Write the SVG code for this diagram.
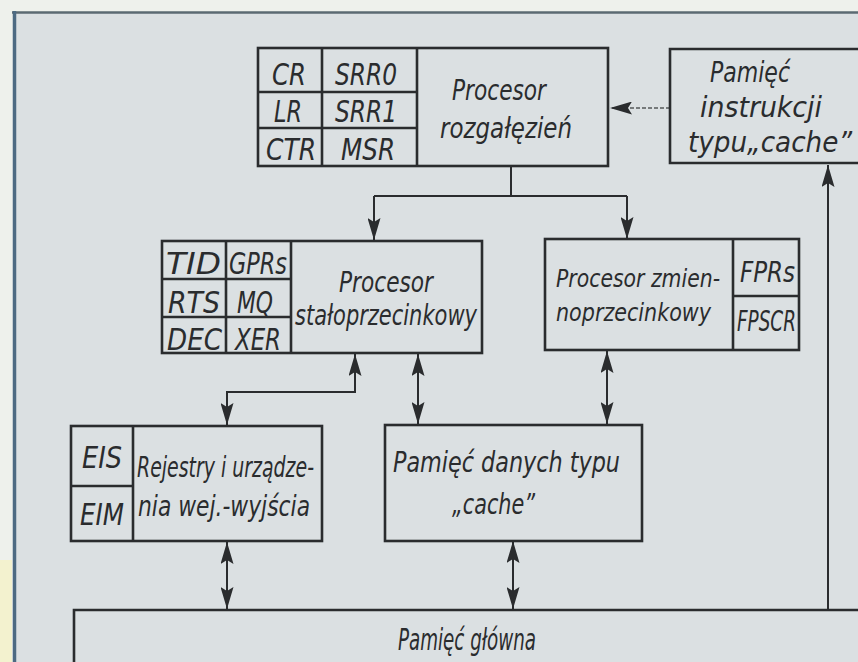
<svg xmlns="http://www.w3.org/2000/svg" width="858" height="662" viewBox="0 0 858 662">
  <style>
    .box { fill: none; stroke: #2a2c2e; stroke-width: 2.6; }
    .wire { fill: none; stroke: #2a2c2e; stroke-width: 2; }
    .thin { fill: none; stroke: #55585a; stroke-width: 1.6; stroke-dasharray: 4 2; }
    text { font-family: "DejaVu Sans Condensed", "Liberation Sans Narrow", "Liberation Sans", sans-serif; font-style: italic; fill: #2a2c2e; }
    .reg { font-size: 31px; }
    .lbl { font-size: 28px; }
    .fp { font-size: 25px; }
  </style>
  <defs>
    <marker id="arrow" viewBox="0 0 22 13" refX="22" refY="6.5" markerWidth="22" markerHeight="13" markerUnits="userSpaceOnUse" orient="auto-start-reverse">
      <path d="M0,0 L22,6.5 L0,13 L4,6.5 z" fill="#2a2c2e"/>
    </marker>
  </defs>

  <!-- page and frame -->
  <rect x="0" y="0" width="858" height="662" fill="#eef1ec"/>
  <rect x="0" y="560" width="12" height="102" fill="#f3f2cf"/>
  <rect x="14" y="12" width="844" height="650" fill="#dbe0e2"/>
  <line x1="12" y1="12.5" x2="858" y2="12.5" stroke="#5b6a72" stroke-width="2.5"/>
  <line x1="14.5" y1="11" x2="14.5" y2="662" stroke="#4d6a82" stroke-width="3.5"/>

  <!-- connectors -->
  <g id="connectors">
    <line class="thin" x1="670" y1="108" x2="610" y2="108" marker-end="url(#arrow)"/>
    <polyline class="wire" points="511,166 511,196"/>
    <polyline class="wire" points="374,196 627,196"/>
    <line class="wire" x1="374" y1="196" x2="374" y2="240" marker-end="url(#arrow)"/>
    <line class="wire" x1="627" y1="196" x2="627" y2="239" marker-end="url(#arrow)"/>
    <polyline class="wire" points="355,354 355,392 227,392 227,425" marker-start="url(#arrow)" marker-end="url(#arrow)"/>
    <line class="wire" x1="418" y1="354" x2="418" y2="424" marker-start="url(#arrow)" marker-end="url(#arrow)"/>
    <line class="wire" x1="607" y1="351" x2="607" y2="424" marker-start="url(#arrow)" marker-end="url(#arrow)"/>
    <line class="wire" x1="227" y1="542" x2="227" y2="609" marker-start="url(#arrow)" marker-end="url(#arrow)"/>
    <line class="wire" x1="513" y1="541" x2="513" y2="609" marker-start="url(#arrow)" marker-end="url(#arrow)"/>
    <line class="wire" x1="828" y1="610" x2="828" y2="165" marker-end="url(#arrow)"/>
  </g>

  <!-- branch processor -->
  <g id="branch-processor">
    <rect class="box" x="258" y="48" width="350" height="118"/>
    <line class="box" x1="322" y1="48" x2="322" y2="166"/>
    <line class="box" x1="417" y1="48" x2="417" y2="166"/>
    <line class="box" x1="258" y1="92" x2="417" y2="92"/>
    <line class="box" x1="258" y1="128" x2="417" y2="128"/>
    <text class="reg" x="272" y="85" textLength="34" lengthAdjust="spacingAndGlyphs">CR</text>
    <text class="reg" x="335" y="85" textLength="62" lengthAdjust="spacingAndGlyphs">SRR0</text>
    <text class="reg" x="274" y="122" textLength="28" lengthAdjust="spacingAndGlyphs">LR</text>
    <text class="reg" x="335" y="122" textLength="62" lengthAdjust="spacingAndGlyphs">SRR1</text>
    <text class="reg" x="266" y="160" textLength="50" lengthAdjust="spacingAndGlyphs">CTR</text>
    <text class="reg" x="341" y="160" textLength="54" lengthAdjust="spacingAndGlyphs">MSR</text>
    <text class="lbl" x="452" y="100" textLength="94" lengthAdjust="spacingAndGlyphs">Procesor</text>
    <text class="lbl" x="440" y="138" textLength="132" lengthAdjust="spacingAndGlyphs">rozgałęzień</text>
  </g>

  <!-- instruction cache -->
  <g id="instruction-cache">
    <polyline class="box" points="866,49 670,49 670,163 866,163"/>
    <text class="lbl" x="710" y="82" textLength="80" lengthAdjust="spacingAndGlyphs">Pamięć</text>
    <text class="lbl" x="700" y="117" textLength="122" lengthAdjust="spacingAndGlyphs">instrukcji</text>
    <text class="lbl" x="688" y="152" textLength="164" lengthAdjust="spacingAndGlyphs">typu„cache”</text>
  </g>

  <!-- fixed-point processor -->
  <g id="fixed-point-processor">
    <rect class="box" x="162" y="241" width="320" height="112"/>
    <line class="box" x1="226" y1="241" x2="226" y2="353"/>
    <line class="box" x1="291" y1="241" x2="291" y2="353"/>
    <line class="box" x1="162" y1="279" x2="291" y2="279"/>
    <line class="box" x1="162" y1="317" x2="291" y2="317"/>
    <text class="reg" x="166" y="274" textLength="55" lengthAdjust="spacingAndGlyphs">TID</text>
    <text class="reg" x="229" y="274" textLength="58" lengthAdjust="spacingAndGlyphs">GPRs</text>
    <text class="reg" x="168" y="313" textLength="52" lengthAdjust="spacingAndGlyphs">RTS</text>
    <text class="reg" x="237" y="313" textLength="36" lengthAdjust="spacingAndGlyphs">MQ</text>
    <text class="reg" x="167" y="350" textLength="55" lengthAdjust="spacingAndGlyphs">DEC</text>
    <text class="reg" x="235" y="350" textLength="46" lengthAdjust="spacingAndGlyphs">XER</text>
    <text class="lbl" x="339" y="292" textLength="94" lengthAdjust="spacingAndGlyphs">Procesor</text>
    <text class="lbl" x="295" y="325" textLength="182" lengthAdjust="spacingAndGlyphs">stałoprzecinkowy</text>
  </g>

  <!-- floating-point processor -->
  <g id="floating-point-processor">
    <rect class="box" x="545" y="239" width="254" height="111"/>
    <line class="box" x1="733" y1="239" x2="733" y2="350"/>
    <line class="box" x1="733" y1="296" x2="799" y2="296"/>
    <text class="fp" x="556" y="287" textLength="164" lengthAdjust="spacingAndGlyphs">Procesor zmien-</text>
    <text class="fp" x="556" y="321" textLength="155" lengthAdjust="spacingAndGlyphs">noprzecinkowy</text>
    <text class="lbl" x="740" y="282" textLength="55" lengthAdjust="spacingAndGlyphs">FPRs</text>
    <text class="lbl" x="737" y="331" textLength="59" lengthAdjust="spacingAndGlyphs">FPSCR</text>
  </g>

  <!-- I/O registers -->
  <g id="io-registers">
    <rect class="box" x="71" y="426" width="251" height="115"/>
    <line class="box" x1="133" y1="426" x2="133" y2="541"/>
    <line class="box" x1="71" y1="486" x2="133" y2="486"/>
    <text class="reg" x="82" y="468" textLength="40" lengthAdjust="spacingAndGlyphs">EIS</text>
    <text class="reg" x="80" y="525" textLength="44" lengthAdjust="spacingAndGlyphs">EIM</text>
    <text class="lbl" x="137" y="477" textLength="177" lengthAdjust="spacingAndGlyphs">Rejestry i urządze-</text>
    <text class="lbl" x="138" y="516" textLength="172" lengthAdjust="spacingAndGlyphs">nia wej.-wyjścia</text>
  </g>

  <!-- data cache -->
  <g id="data-cache">
    <rect class="box" x="385" y="425" width="257" height="116"/>
    <text class="lbl" x="393" y="472" textLength="227" lengthAdjust="spacingAndGlyphs">Pamięć danych typu</text>
    <text class="lbl" x="452" y="514" textLength="83" lengthAdjust="spacingAndGlyphs">„cache”</text>
  </g>

  <!-- main memory -->
  <g id="main-memory">
    <polyline class="box" points="866,610 74,610 74,670"/>
    <text class="lbl" x="398" y="650" textLength="138" lengthAdjust="spacingAndGlyphs" style="font-size:30px">Pamięć główna</text>
  </g>
</svg>
